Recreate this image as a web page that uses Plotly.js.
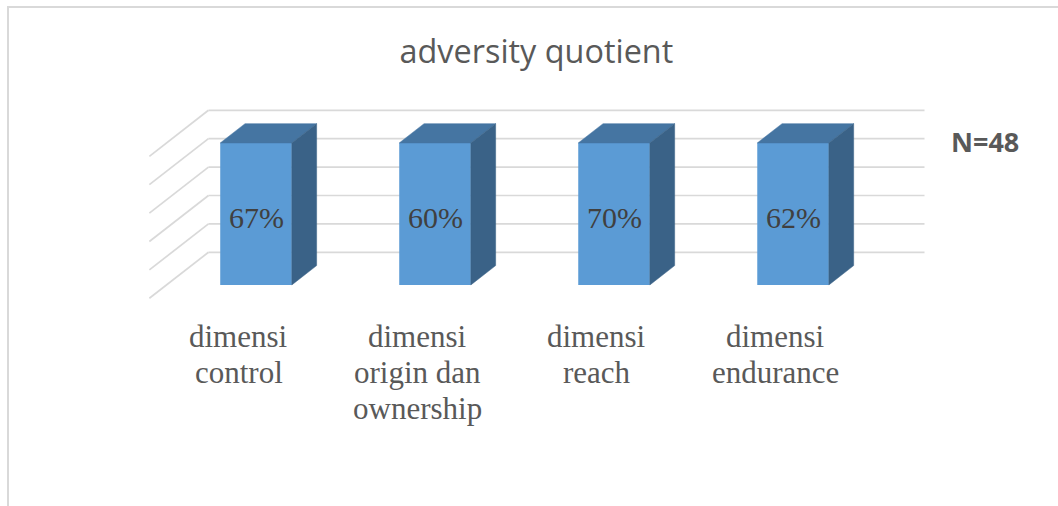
<!DOCTYPE html>
<html>
<head>
<meta charset="utf-8">
<script src="https://cdn.plot.ly/plotly-3.0.1.min.js"></script>
<style>
html,body{margin:0;padding:0;background:#fff;overflow:hidden;}
#chart{position:absolute;left:0;top:0;width:1058px;height:506px;}
#frame{position:absolute;left:7px;top:6px;width:2000px;height:2000px;border-left:2px solid #d9d9d9;border-top:2px solid #d9d9d9;pointer-events:none;}
</style>
</head>
<body>
<div id="chart"></div>
<div id="frame"></div>
<script>
// ---- data ----
const categories = ['dimensi<br>control', 'dimensi<br>origin dan<br>ownership', 'dimensi<br>reach', 'dimensi<br>endurance'];
const percentValues = [67, 60, 70, 62];          // printed on the bars
const barHeights = [100, 100, 100, 100];         // all columns reach the top gridline
const gridLevels = [0, 20, 40, 60, 80, 100];
const chartTitle = 'adversity quotient';
const noteText = 'N=48';

// ---- 3D projection helpers (depth 0 = front, 1 = back wall) ----
const D0 = 0.29, D1 = 0.71;      // column front / back depth
const KX = 0.33, KY = 32.4;      // screen offset per unit depth, in axis units
const BW = 0.4;                  // column width in category units
function P(c, v, d) { return [c + (d - D0) * KX, v + (d - D0) * KY]; }

const xs = categories.map((_, i) => i);
const wallL = -0.5, wallR = xs.length - 0.5;

// gridlines as shapes (below traces)
const shapes = [];
gridLevels.forEach(v => {
  const a = P(wallL, v, 1), b = P(wallR, v, 1), f = P(wallL, v, 0);
  shapes.push({type:'line', xref:'x', yref:'y', layer:'below', x0:a[0], y0:a[1], x1:b[0], y1:b[1], line:{color:'#d9d9d9', width:1.7}});
  shapes.push({type:'line', xref:'x', yref:'y', layer:'below', x0:f[0], y0:f[1], x1:a[0], y1:a[1], line:{color:'#d9d9d9', width:1.7}});
});

// top and side faces
const topX = [], topY = [], sideX = [], sideY = [];
xs.forEach((c, i) => {
  const h = barHeights[i];
  const pts = [P(c - BW/2, h, D0), P(c + BW/2, h, D0), P(c + BW/2, h, D1), P(c - BW/2, h, D1), P(c - BW/2, h, D0)];
  pts.forEach(p => { topX.push(p[0]); topY.push(p[1]); });
  topX.push(null); topY.push(null);
  const sp = [P(c + BW/2, 0, D0), P(c + BW/2, h, D0), P(c + BW/2, h, D1), P(c + BW/2, 0, D1), P(c + BW/2, 0, D0)];
  sp.forEach(p => { sideX.push(p[0]); sideY.push(p[1]); });
  sideX.push(null); sideY.push(null);
});

const traces = [
  {type:'bar', x: xs, y: barHeights, width: BW, marker:{color:'#5b9bd5', line:{width:0}}, hoverinfo:'skip', showlegend:false},
  {type:'scatter', mode:'lines', x: topX, y: topY, fill:'toself', fillcolor:'#4575a2', line:{color:'#4575a2', width:0.5}, hoverinfo:'skip', showlegend:false},
  {type:'scatter', mode:'lines', x: sideX, y: sideY, fill:'toself', fillcolor:'#3a6287', line:{color:'#3a6287', width:0.5}, hoverinfo:'skip', showlegend:false}
];

const serif = 'Liberation Serif, Times New Roman, serif';
const annotations = [];
xs.forEach((c, i) => {
  annotations.push({x: c, y: barHeights[i] / 2, xref:'x', yref:'y', text: percentValues[i] + '%', showarrow:false,
    xanchor:'center', yanchor:'middle', yshift: -4, font:{family: serif, size:30, color:'#404040'}});
  const lp = P(c, 0, 0);
  categories[i].split('<br>').forEach((line, k) => {
    annotations.push({x: lp[0], y: lp[1], xref:'x', yref:'y', text: line, showarrow:false,
      xanchor:'center', yanchor:'top', yshift: -19 - k * 35.7,
      font:{family: serif, size:31, color:'#595959'}});
  });
});
annotations.push({x: 0.984, y: 0.723, xref:'paper', yref:'paper', xanchor:'center', yanchor:'middle',
  text: '<b>' + noteText + '</b>', showarrow:false,
  font:{family:'Open Sans, sans-serif', size:27, color:'#595959'}});

const layout = {
  width: 1058, height: 506,
  margin: {l: 60, r: 58, t: 20, b: 46},
  paper_bgcolor: 'rgba(0,0,0,0)', plot_bgcolor: 'rgba(0,0,0,0)',
  title: {text: chartTitle, x: 0.507, xref:'container', y: 0.897, yref:'container', yanchor:'middle', xanchor:'center',
    font: {family:'Open Sans, sans-serif', size: 32.4, color:'#595959'}},
  xaxis: {range: [-1.095, 4.156], showgrid:false, zeroline:false, showticklabels:false, showline:false, fixedrange:true},
  yaxis: {range: [-123.3, 186.6], showgrid:false, zeroline:false, showticklabels:false, showline:false, fixedrange:true},
  shapes: shapes,
  annotations: annotations,
  showlegend: false
};

Plotly.newPlot('chart', traces, layout, {displayModeBar:false, staticPlot:true});
</script>
</body>
</html>
